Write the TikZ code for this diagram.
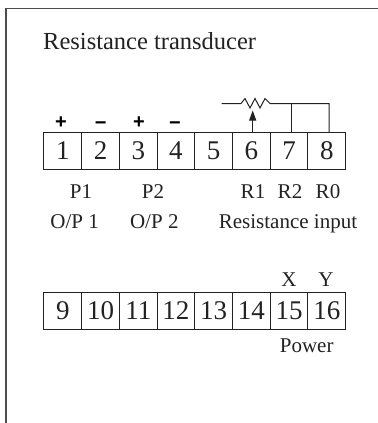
\documentclass[tikz,border=0pt]{standalone}
\usepackage{fontspec}
\setmainfont{Liberation Serif}
\newfontfamily\signfont{Liberation Sans}
\usetikzlibrary{arrows.meta}
\definecolor{ink}{HTML}{222222}
\tikzset{
	cell/.style = {draw = ink, line width = 1bp, text = ink, minimum width = 37.7bp, minimum height = 36.5bp, inner sep = 0pt, font = \fontsize{27bp}{27bp}\selectfont},
	lbl/.style = {text = ink, inner sep = 0pt, anchor = base, font = \fontsize{21bp}{21bp}\selectfont},
	sgn/.style = {text = black, inner sep = 0pt, anchor = base, font = \fontsize{20bp}{20bp}\signfont\bfseries},
	wire/.style = {draw = ink, line width = 1bp}
}

\begin{document}
\begin{tikzpicture}[x = 1bp, y = -1bp]
	\useasboundingbox (0, 0) rectangle (378, 423);
	\coordinate (fa) at (6, 423);
	\coordinate (fb) at (6, 8.5);
	\coordinate (fc) at (378, 8.5);
	\draw[draw = black!70, line width = 1.8bp] (fa) -- (fb) -- (fc);
	\node[text = ink, inner sep = 0pt, anchor = base west, font = \fontsize{24.5bp}{24.5bp}\selectfont] (title) at (43, 49.3) {Resistance transducer};
	\node[cell] (c1) at (62.85, 151) {1};
	\node[cell] (c2) at (100.55, 151) {2};
	\node[cell] (c3) at (138.25, 151) {3};
	\node[cell] (c4) at (175.95, 151) {4};
	\node[cell] (c5) at (213.65, 151) {5};
	\node[cell] (c6) at (251.35, 151) {6};
	\node[cell] (c7) at (289.05, 151) {7};
	\node[cell] (c8) at (326.75, 151) {8};
	\node[cell] (c9) at (62.85, 311) {9};
	\node[cell] (c10) at (100.55, 311) {10};
	\node[cell] (c11) at (138.25, 311) {11};
	\node[cell] (c12) at (175.95, 311) {12};
	\node[cell] (c13) at (213.65, 311) {13};
	\node[cell] (c14) at (251.35, 311) {14};
	\node[cell] (c15) at (289.05, 311) {15};
	\node[cell] (c16) at (326.75, 311) {16};
	\node[sgn] (s1) at (61, 128) {+};
	\node[sgn] (s2) at (100.7, 129) {−};
	\node[sgn] (s3) at (139, 128) {+};
	\node[sgn] (s4) at (175, 129) {−};
	\node[lbl] (p1) at (81, 198) {P1};
	\node[lbl] (p2) at (153, 198) {P2};
	\node[lbl] (r1) at (253, 198) {R1};
	\node[lbl] (r2) at (290, 198) {R2};
	\node[lbl] (r0) at (328, 198) {R0};
	\node[lbl] (op1) at (74.7, 228) {O/P 1};
	\node[lbl] (op2) at (154.3, 228) {O/P 2};
	\node[lbl] (rin) at (288, 228) {Resistance input};
	\node[lbl] (x) at (289, 286) {X};
	\node[lbl] (y) at (326, 286) {Y};
	\node[lbl] (pow) at (306.7, 352.7) {Power};
	\coordinate (wa) at (221.7, 103.5);
	\coordinate (wb) at (241, 103.5);
	\coordinate (wc) at (270, 103.5);
	\coordinate (j7) at (291, 103.5);
	\coordinate (j8) at (329, 103.5);
	\coordinate (tip) at (252.7, 110.5);
	\draw[wire] (wa) -- (wb) -- (245, 98.5) -- (250, 108) -- (255, 98.5) -- (260, 108) -- (265, 98.5) -- (wc) -- (j7) -- (j8) -- (j8 |- c8.north);
	\draw[wire] (j7) -- (j7 |- c7.north);
	\draw[wire, -{Triangle[length = 10bp, width = 7bp]}] (tip |- c6.north) -- (tip);
\end{tikzpicture}
\end{document}
